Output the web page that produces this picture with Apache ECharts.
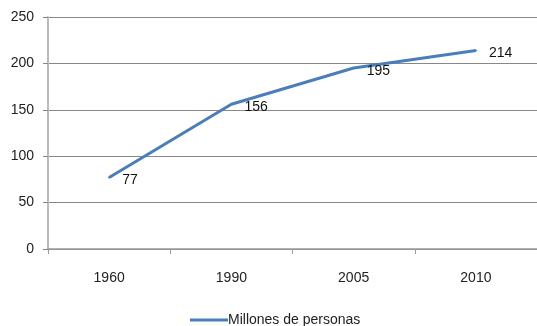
<!DOCTYPE html>
<html>
<head>
<meta charset="utf-8">
<script src="https://cdn.jsdelivr.net/npm/echarts@6/dist/echarts.min.js"></script>
<style>
  html, body { margin: 0; padding: 0; background: #fff; }
  #chart { width: 537px; height: 326px; }
</style>
</head>
<body>
<div id="chart"></div>
<script>
var years = ['1960', '1990', '2005', '2010'];
var personas = [77, 156, 195, 214];
var yTicks = [0, 50, 100, 150, 200, 250];

var myChart = echarts.init(document.getElementById('chart'));
var fontFam = '"Liberation Sans", Arial, sans-serif';

var option = {
  animation: false,
  grid: { left: 48, right: -3, top: 17, bottom: 77 },
  legend: {
    top: 308,
    left: 185,
    icon: 'rect',
    itemWidth: 38,
    itemHeight: 3,
    itemGap: 0,
    textStyle: { color: '#222', fontSize: 14, fontFamily: fontFam, padding: [0, 0, 0, -5] },
    data: ['Millones de personas']
  },
  xAxis: {
    type: 'category',
    data: years,
    boundaryGap: true,
    axisLine: { lineStyle: { color: '#999', width: 1.5 } },
    axisTick: { show: true, length: 5, alignWithLabel: false, lineStyle: { color: '#999' } },
    axisLabel: { color: '#222', fontSize: 14, fontFamily: fontFam, margin: 22 }
  },
  yAxis: {
    type: 'value',
    min: yTicks[0],
    max: yTicks[yTicks.length - 1],
    interval: 50,
    axisLine: { show: true, lineStyle: { color: '#bbb', width: 2 } },
    axisTick: { show: true, length: 5, lineStyle: { color: '#888' } },
    axisLabel: { color: '#222', fontSize: 14, fontFamily: fontFam, margin: 14 },
    splitLine: { show: true, lineStyle: { color: '#888', width: 1 } }
  },
  series: [{
    name: 'Millones de personas',
    type: 'line',
    data: personas,
    symbol: 'circle',
    symbolSize: 2,
    showSymbol: true,
    lineStyle: { color: '#4a7ebb', width: 3 },
    itemStyle: { color: '#4a7ebb' },
    label: {
      show: true,
      position: 'right',
      distance: 12,
      offset: [0, 3],
      color: '#111',
      fontSize: 14,
      fontFamily: fontFam
    }
  }]
};
myChart.setOption(option);
</script>
</body>
</html>
